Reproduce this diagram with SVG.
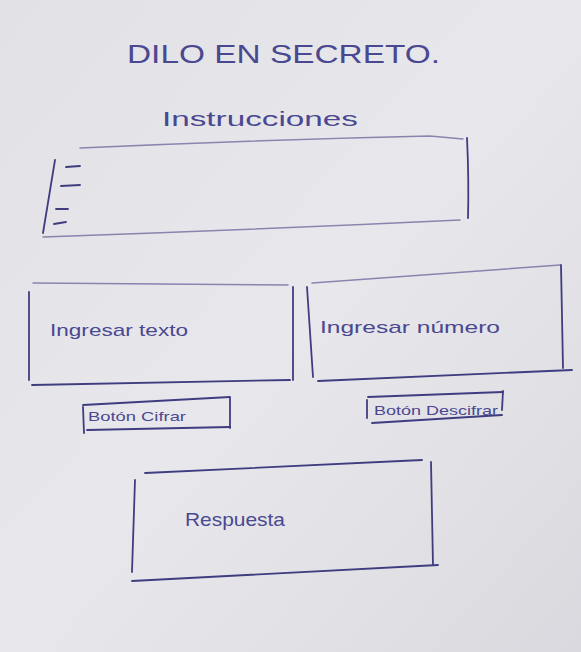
<svg xmlns="http://www.w3.org/2000/svg" width="581" height="652" viewBox="0 0 581 652">
<defs>
<linearGradient id="bg" x1="0" y1="0" x2="1" y2="1">
<stop offset="0" stop-color="#e2e2e6"/>
<stop offset="0.5" stop-color="#e8e8ec"/>
<stop offset="1" stop-color="#d9d9df"/>
</linearGradient>
</defs>
<style>
.ink{stroke:#3f3d80;stroke-width:1.8;fill:none;stroke-linecap:round}
.faint{stroke:#8785ad;stroke-width:1.5;fill:none;stroke-linecap:round}
.t{font-family:"Liberation Sans",Arial,sans-serif;fill:#4a4890}
</style>
<rect width="581" height="652" fill="url(#bg)"/>
<g id="title">
<text class="t" x="127" y="63" font-size="25" textLength="313" lengthAdjust="spacingAndGlyphs">DILO EN SECRETO.</text>
</g>
<g id="instrucciones">
<text class="t" x="162" y="126" font-size="21" textLength="196" lengthAdjust="spacingAndGlyphs">Instrucciones</text>
<path class="faint" d="M80 148 Q250 140 430 136 L463 139"/>
<path class="ink" d="M467 138 Q469 180 468 218"/>
<path class="faint" d="M43 237 Q250 230 460 220"/>
<path class="ink" d="M55 160 L43 233"/>
<path class="ink" d="M66 167 L80 166 M61 186 L80 185 M56 209 L68 209 M54 224 L66 222"/>
</g>
<g id="ingresar-texto">
<path class="faint" d="M33 283 L288 285"/>
<path class="ink" d="M29 292 L29 380"/>
<path class="ink" d="M293 287 L293 380"/>
<path class="ink" d="M32 385 L290 380"/>
<text class="t" x="50" y="336" font-size="17" textLength="138" lengthAdjust="spacingAndGlyphs">Ingresar texto</text>
</g>
<g id="ingresar-numero">
<path class="faint" d="M312 283 L560 265"/>
<path class="ink" d="M561 265 L563 368"/>
<path class="ink" d="M307 287 L313 377"/>
<path class="ink" d="M318 381 L572 370"/>
<text class="t" x="320" y="333" font-size="17" textLength="180" lengthAdjust="spacingAndGlyphs">Ingresar número</text>
</g>
<g id="boton-cifrar">
<path class="ink" d="M83 405 L230 397"/>
<path class="ink" d="M83 407 L84 433"/>
<path class="ink" d="M230 398 L230 428"/>
<path class="ink" d="M87 430 L230 427"/>
<text class="t" x="88" y="421" font-size="13" textLength="98" lengthAdjust="spacingAndGlyphs">Botón Cifrar</text>
</g>
<g id="boton-descifrar">
<path class="ink" d="M368 397 L503 392"/>
<path class="ink" d="M367 400 L367 418"/>
<path class="ink" d="M503 391 L502 410"/>
<path class="ink" d="M372 423 L502 415"/>
<text class="t" x="374" y="415" font-size="13" textLength="124" lengthAdjust="spacingAndGlyphs">Botón Descifrar</text>
</g>
<g id="respuesta">
<path class="ink" d="M145 473 L422 460"/>
<path class="ink" d="M431 462 L433 565"/>
<path class="ink" d="M135 480 L132 572"/>
<path class="ink" d="M132 581 L438 565"/>
<text class="t" x="185" y="526" font-size="19" textLength="100" lengthAdjust="spacingAndGlyphs">Respuesta</text>
</g>
<g id="connectors"/>
</svg>
